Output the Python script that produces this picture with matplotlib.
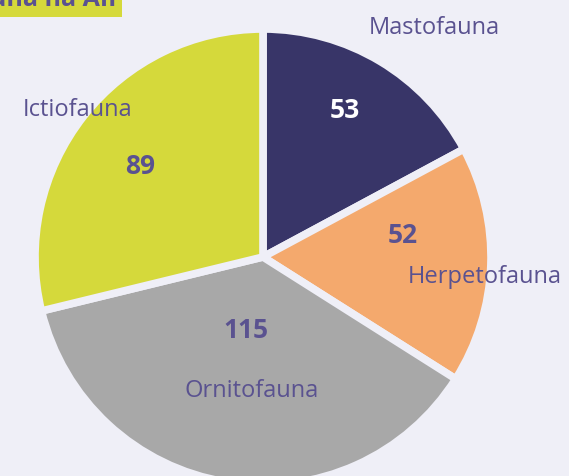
import matplotlib.pyplot as plt

# dados da fauna
grupos = ['Mastofauna', 'Herpetofauna', 'Ornitofauna', 'Ictiofauna']
valores = [53, 52, 115, 89]
cores = ['#383568', '#f4a96d', '#a8a8a8', '#d5d93b']

bg = '#efeff7'
roxo = '#5a5290'

fig = plt.figure(figsize=(5.69, 4.77), dpi=100, facecolor=bg)
ax = fig.add_axes([0, 0, 1, 1])
ax.set_facecolor(bg)
ax.axis('off')

H = 477
ax.pie(valores, colors=cores, startangle=90, counterclock=False,
       center=(263, H - 258), radius=228,
       wedgeprops=dict(edgecolor=bg, linewidth=5.5))
ax.set_xlim(0, 569)
ax.set_ylim(0, 477)
ax.set_aspect('equal')

plt.rcParams['font.family'] = ['Open Sans', 'DejaVu Sans']

# posicoes dos rotulos (px)
pos_nome = [(434, 28), (485, 277), (252, 391), (78, 110)]
pos_valor = [(345, 110), (403, 236), (246, 331), (140, 167)]
cor_valor = ['white', roxo, roxo, roxo]

for g, v, pn, pv, cv in zip(grupos, valores, pos_nome, pos_valor, cor_valor):
    ax.text(pn[0], H - pn[1], g, ha='center', va='center',
            fontsize=17, color=roxo)
    ax.text(pv[0], H - pv[1], str(v), ha='center', va='center',
            fontsize=19, fontweight='bold', color=cv)

# titulo cortado no topo
ax.text(116, H + 1, 'Fauna na AII', ha='right', va='center',
        fontsize=18, fontweight='bold', color=roxo,
        bbox=dict(boxstyle='square,pad=0.25', facecolor='#d5d93b',
                  edgecolor='none'))

fig.savefig('out.png', dpi=100, facecolor=bg)
